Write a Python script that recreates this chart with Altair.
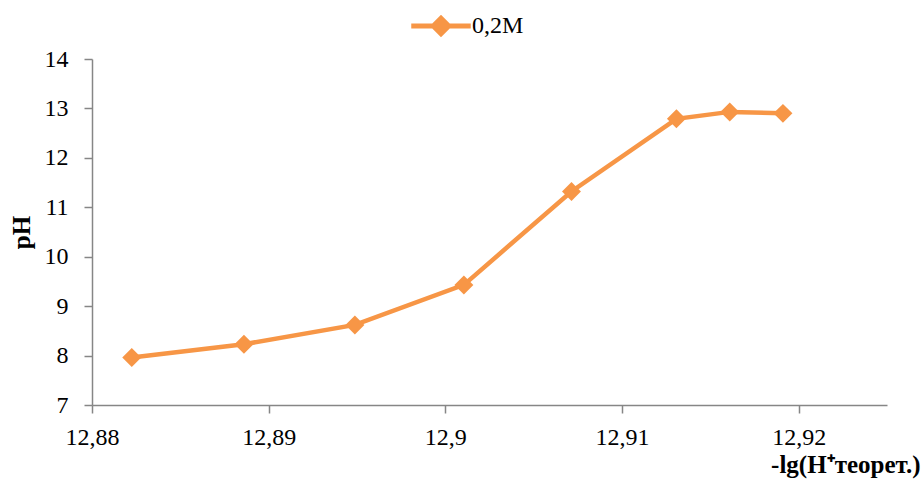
import altair as alt
import pandas as pd

# Titration curve: pH versus theoretical -lg[H+], 0.2 M series
lg_h = [12.88225, 12.8886, 12.89488, 12.90105, 12.90714, 12.91308, 12.9161, 12.91911]
ph = [7.96, 8.23, 8.62, 9.43, 11.32, 12.79, 12.93, 12.90]
series = ["0,2M"] * len(lg_h)

x_ticks = [12.88, 12.89, 12.90, 12.91, 12.92]
y_ticks = [7, 8, 9, 10, 11, 12, 13, 14]

df = pd.DataFrame({"x": lg_h, "y": ph, "s": series})

ORANGE = "#F79646"
AXIS_GREY = "#868686"
FONT = "Liberation Serif, Times New Roman, serif"

# line with a diamond on it, used as the legend symbol
legend_shape = (
    "M-2.65,-0.225 L2.65,-0.225 L2.65,0.225 L-2.65,0.225 Z "
    "M-1,0 L0,-1 L1,0 L0,1 Z"
)

x_enc = alt.X(
    "x:Q",
    scale=alt.Scale(domain=[12.88, 12.925], nice=False, zero=False),
    axis=alt.Axis(
        values=x_ticks,
        labelExpr="replace(format(datum.value, '.4~f'), '.', ',')",
        labelFont=FONT,
        labelFontSize=24,
        labelColor="black",
        labelPadding=12,
        labelFlush=False,
        title="-lg(H⁺теорет.)",
        titleAnchor="end",
        titleAlign="right",
        titleX=828,
        titleY=67,
        titleBaseline="alphabetic",
        titleFontWeight="bold",
        titleFontSize=25,
        titleFont=FONT,
        titleColor="black",
    ),
)
y_enc = alt.Y(
    "y:Q",
    scale=alt.Scale(domain=[7, 14], nice=False, zero=False),
    axis=alt.Axis(
        values=y_ticks,
        labelFont=FONT,
        labelFontSize=24,
        labelColor="black",
        labelPadding=16,
        labelFlush=False,
        title="pH",
        titleFontWeight="bold",
        titleFontSize=25,
        titleFont=FONT,
        titleColor="black",
        titleX=-58,
    ),
)
color_enc = alt.Color(
    "s:N",
    scale=alt.Scale(range=[ORANGE]),
    legend=alt.Legend(
        title=None,
        orient="none",
        legendX=337,
        legendY=-45,
        symbolType=legend_shape,
        symbolSize=504,
        symbolFillColor=ORANGE,
        symbolStrokeWidth=0,
        labelFont=FONT,
        labelFontSize=24,
        labelColor="black",
        labelOffset=19,
        padding=0,
    ),
)

line = alt.Chart(df).mark_line(strokeWidth=4.5).encode(x=x_enc, y=y_enc, color=color_enc)
points = alt.Chart(df).mark_point(
    shape="diamond", size=360, filled=True, opacity=1
).encode(x="x:Q", y="y:Q", color=alt.Color("s:N", legend=None))

chart = (
    alt.layer(line, points)
    .properties(
        width=795,
        height=346,
        autosize=alt.AutoSizeParams(type="none"),
        padding={"left": 92, "top": 59, "right": 34, "bottom": 74},
    )
    .configure_view(stroke=None)
    .configure_axis(
        grid=False,
        domainColor=AXIS_GREY,
        domainWidth=1.5,
        tickColor=AXIS_GREY,
        tickWidth=1.5,
        tickSize=8,
    )
)

chart.save("out.html", embed_options={"renderer": "svg", "actions": False})
